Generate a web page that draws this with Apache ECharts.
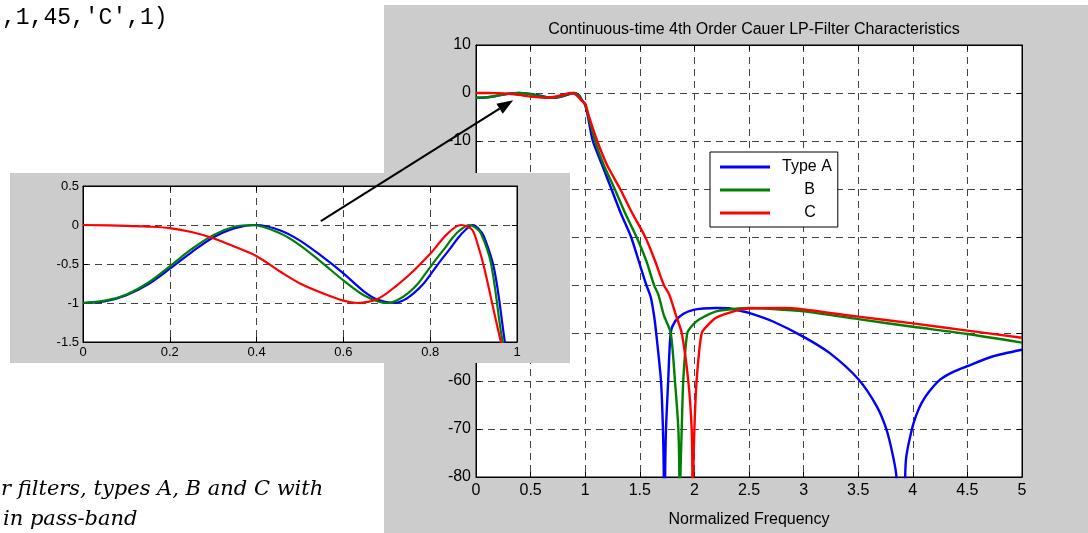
<!DOCTYPE html>
<html>
<head>
<meta charset="utf-8">
<script src="https://cdn.jsdelivr.net/npm/echarts/dist/echarts.min.js"></script>
<style>
html, body { margin: 0; padding: 0; background: #fff; }
#chart { width: 1088px; height: 533px; }
</style>
</head>
<body>
<div id="chart"></div>
<script>
// frequency response, [normalized frequency, dB]; pass-band part
var typeAPass = [[0,-1.00],[0.05,-0.98],[0.1,-0.90],[0.15,-0.76],[0.2,-0.56],[0.25,-0.35],[0.3,-0.16],[0.35,-0.04],[0.4,0.00],
    [0.455,-0.07],[0.5,-0.20],[0.55,-0.40],[0.6,-0.62],[0.647,-0.85],[0.68,-0.96],[0.717,-1.00],[0.74,-0.96],[0.763,-0.87],
    [0.785,-0.75],[0.805,-0.60],[0.825,-0.45],[0.845,-0.31],[0.865,-0.16],[0.88,-0.07],[0.898,0.00],[0.91,-0.04],
    [0.924,-0.15],[0.948,-0.58],[0.972,-1.50]];
var typeBPass = [[0,-1.00],[0.05,-0.97],[0.1,-0.89],[0.15,-0.74],[0.2,-0.53],[0.25,-0.31],[0.3,-0.13],[0.35,-0.02],[0.39,0.00],
    [0.455,-0.11],[0.5,-0.26],[0.55,-0.48],[0.6,-0.71],[0.65,-0.91],[0.70,-1.00],[0.725,-0.96],[0.75,-0.87],[0.772,-0.75],
    [0.792,-0.60],[0.812,-0.45],[0.832,-0.31],[0.852,-0.16],[0.868,-0.07],[0.89,0.00],[0.903,-0.03],[0.917,-0.11],
    [0.94,-0.49],[0.967,-1.50]];
var typeCPass = [[0,0.00],[0.1,-0.01],[0.15,-0.02],[0.2,-0.04],[0.25,-0.09],[0.3,-0.17],[0.35,-0.28],[0.4,-0.40],[0.455,-0.60],
    [0.5,-0.75],[0.55,-0.87],[0.6,-0.97],[0.632,-1.00],[0.678,-0.95],[0.724,-0.77],[0.763,-0.58],[0.8,-0.37],[0.84,-0.11],
    [0.871,0.00],[0.885,-0.02],[0.898,-0.07],[0.91,-0.26],[0.924,-0.54],[0.963,-1.50]];

// transition and stop-band (notch points fall below -80 and are clipped)
var typeAStop = [[1.0,-2.5],[1.03,-5.5],[1.07,-10],[1.155,-15],[1.24,-20],[1.325,-25],[1.42,-30],[1.49,-35],[1.56,-40],
    [1.6,-42.5],[1.63,-46.3],[1.65,-50],[1.694,-60],[1.712,-70],[1.72,-80],[1.726,-110],[1.732,-80],[1.74,-70],[1.76,-60],
    [1.783,-50],[1.822,-47.6],[1.9,-46],[1.99,-45.2],[2.08,-44.9],[2.2,-44.8],[2.33,-44.9],[2.42,-45.4],[2.5,-45.8],
    [2.72,-47.6],[3.0,-50.8],[3.24,-54.2],[3.5,-59.6],[3.67,-65.3],[3.76,-70.2],[3.82,-75.8],[3.85,-80],[3.89,-120],
    [3.93,-80],[3.94,-75.8],[3.99,-70.2],[4.03,-67.2],[4.08,-64.6],[4.15,-62.2],[4.25,-59.7],[4.37,-58.1],[4.5,-56.9],
    [4.73,-54.9],[5.0,-53.5]];
var typeBStop = [[1.0,-2.3],[1.035,-5.3],[1.09,-10],[1.17,-15],[1.27,-20],[1.365,-25],[1.47,-30],[1.56,-35],[1.63,-40],
    [1.67,-42],[1.72,-46.3],[1.783,-50],[1.822,-60],[1.853,-70],[1.862,-80],[1.867,-110],[1.872,-80],[1.884,-70],
    [1.898,-60],[1.935,-50],[1.99,-48.2],[2.05,-47.1],[2.2,-45.5],[2.36,-45.0],[2.5,-44.8],[2.72,-45.0],[3.0,-45.5],
    [3.5,-47.1],[4.0,-48.7],[4.5,-50.2],[5.0,-52]];
var typeCStop = [[1.0,-2.3],[1.04,-5.3],[1.11,-10],[1.2,-15],[1.32,-20],[1.43,-25],[1.55,-30],[1.64,-35],[1.72,-40],
    [1.77,-42],[1.83,-46.25],[1.884,-50],[1.944,-60],[1.975,-70],[1.982,-80],[1.986,-110],[1.99,-80],[2.0,-70],
    [2.02,-60],[2.067,-50],[2.13,-48.2],[2.2,-46.8],[2.39,-45.3],[2.5,-44.9],[2.8,-44.8],[3.0,-45.1],[3.5,-46.6],
    [4.0,-48.0],[4.5,-49.5],[5.0,-51]];

var seriesNames = ['Type A', '     B', '     C'];
var seriesColors = ['#0000ff', '#008000', '#ff0000'];
var curves = [typeAPass.concat(typeAStop), typeBPass.concat(typeBStop), typeCPass.concat(typeCStop)];

// axis ranges [min, max, interval]
var mainFreqAxis = [0, 5, 0.5];
var mainGainAxis = [-80, 10, 10];
var insetFreqAxis = [0, 1, 0.2];
var insetGainAxis = [-1.5, 0.5, 0.5];

// arrow: from a point in the inset to a point in the main plot
var arrowFrom = [0.548, 0.05];
var arrowTo = [0.34, -1.5];

var titleText = 'Continuous-time 4th Order Cauer LP-Filter Characteristics';
var xName = 'Normalized Frequency';
var codeText = ",1,45,'C',1)";
var captionLines = ['r filters, types A, B and C with', 'in pass-band'];

var FONT = '"Liberation Sans", Arial, Helvetica, sans-serif';

var chart = echarts.init(document.getElementById('chart'));

function axis(gridIndex, position, range, z, extra) {
    var a = {
        type: 'value',
        gridIndex: gridIndex,
        position: position,
        min: range[0],
        max: range[1],
        interval: range[2],
        z: z,
        axisLine: { show: true, onZero: false, lineStyle: { color: '#000', width: 1 } },
        axisTick: { show: true, inside: true, length: 5, lineStyle: { color: '#000' } },
        axisLabel: { show: false },
        splitLine: { show: false }
    };
    return Object.assign(a, extra || {});
}

function labels(size, margin) {
    return { show: true, color: '#000', fontSize: size, fontFamily: FONT, margin: margin };
}

var dashed = { show: true, lineStyle: { color: '#444', width: 1, type: [7, 5] } };

var series = [];
curves.forEach(function (d, i) {
    series.push({
        name: seriesNames[i], type: 'line', xAxisIndex: 0, yAxisIndex: 0, data: d,
        symbol: 'none', smooth: 0.25, clip: true, z: 4, silent: true,
        lineStyle: { color: seriesColors[i], width: 2.4 }, itemStyle: { color: seriesColors[i] }
    });
});
curves.forEach(function (d, i) {
    series.push({
        name: seriesNames[i], type: 'line', xAxisIndex: 1, yAxisIndex: 1, data: d,
        symbol: 'none', smooth: 0.35, clip: true, z: 13, silent: true,
        lineStyle: { color: seriesColors[i], width: 2.2 }, itemStyle: { color: seriesColors[i] }
    });
});

chart.setOption({
    animation: false,
    backgroundColor: '#fff',
    title: {
        text: titleText, left: 749, top: 17, textAlign: 'center',
        textStyle: { color: '#000', fontSize: 16, fontWeight: 'normal', fontFamily: FONT }
    },
    legend: {
        data: seriesNames, orient: 'vertical', left: 710, top: 152, z: 5,
        selectedMode: false, backgroundColor: '#fff', borderColor: '#000', borderWidth: 1, borderRadius: 0,
        padding: [7, 6, 6, 10], icon: 'rect', itemWidth: 50, itemHeight: 3, itemGap: 7,
        textStyle: { color: '#000', fontSize: 16, fontFamily: FONT, padding: [0, 0, 0, 7] }
    },
    grid: [
        { left: 476, top: 45, width: 546, height: 432, show: true, backgroundColor: '#fff',
          borderColor: '#000', borderWidth: 1, z: 1, outerBoundsMode: 'none' },
        { left: 83, top: 186, width: 434, height: 156, show: true, backgroundColor: '#fff',
          borderColor: '#000', borderWidth: 1, z: 11, outerBoundsMode: 'none' }
    ],
    xAxis: [
        axis(0, 'bottom', mainFreqAxis, 3, {
            axisLabel: labels(16, 6), splitLine: dashed,
            name: xName, nameLocation: 'middle', nameGap: 35,
            nameTextStyle: { color: '#000', fontSize: 16, fontFamily: FONT }
        }),
        axis(1, 'bottom', insetFreqAxis, 12, { axisLabel: labels(13, 4), splitLine: dashed }),
        axis(0, 'top', mainFreqAxis, 3),
        axis(1, 'top', insetFreqAxis, 12)
    ],
    yAxis: [
        axis(0, 'left', mainGainAxis, 3, { axisLabel: labels(16, 5), splitLine: dashed }),
        axis(1, 'left', insetGainAxis, 12, { axisLabel: labels(13, 4), splitLine: dashed }),
        axis(0, 'right', mainGainAxis, 3),
        axis(1, 'right', insetGainAxis, 12)
    ],
    series: series
});

// arrow and decorations, placed after the axes exist
var p0 = chart.convertToPixel({ gridIndex: 1 }, arrowFrom);
var p1 = chart.convertToPixel({ gridIndex: 0 }, arrowTo);
var dx = p1[0] - p0[0], dy = p1[1] - p0[1];
var len = Math.sqrt(dx * dx + dy * dy);
var ux = dx / len, uy = dy / len;
var headLen = 16, headHalf = 6;
var bx = p1[0] - ux * headLen, by = p1[1] - uy * headLen;

chart.setOption({
    graphic: [
        { type: 'rect', z: 0, silent: true, shape: { x: 384, y: 5, width: 704, height: 528 }, style: { fill: '#cccccc' } },
        { type: 'rect', z: 10, silent: true, shape: { x: 10, y: 173, width: 560, height: 190 }, style: { fill: '#cccccc' } },
        { type: 'text', z: 1, silent: true, style: {
            text: codeText, x: 2, y: 18, fill: '#000', font: '23px "Liberation Mono", "Courier New", monospace',
            textVerticalAlign: 'middle', verticalAlign: 'middle' } },
        { type: 'text', z: 1, silent: true, style: {
            text: captionLines[0], x: 1, y: 490, fill: '#000', font: 'italic 21px "DejaVu Serif", serif',
            textVerticalAlign: 'middle', verticalAlign: 'middle' } },
        { type: 'text', z: 1, silent: true, style: {
            text: captionLines[1], x: 3, y: 520, fill: '#000', font: 'italic 21px "DejaVu Serif", serif',
            textVerticalAlign: 'middle', verticalAlign: 'middle' } },
        { type: 'line', z: 20, silent: true, shape: { x1: p0[0], y1: p0[1], x2: bx, y2: by },
          style: { stroke: '#000', lineWidth: 2 } },
        { type: 'polygon', z: 20, silent: true, shape: { points: [
            [p1[0], p1[1]], [bx - uy * headHalf, by + ux * headHalf], [bx + uy * headHalf, by - ux * headHalf]] },
          style: { fill: '#000' } }
    ]
});

window.addEventListener('resize', function () { chart.resize(); });
</script>
</body>
</html>
